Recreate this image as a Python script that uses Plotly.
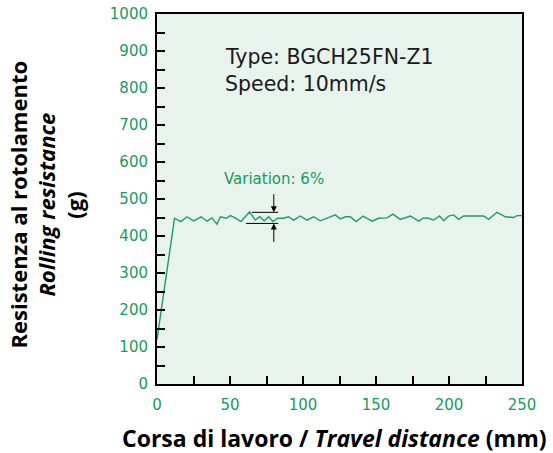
import plotly.graph_objects as go

# travel distance (mm) and rolling resistance (g)
travel_mm = [0, 12, 16.4, 20.5, 25.1, 30.3, 34.2, 37.7, 39.2, 41.1, 43.4, 47.5, 50.2,
             53.6, 57.5, 63.4, 67.3, 70.3, 73.5, 76.4, 79.4, 82.6, 86.7, 90.1, 93.6,
             98.2, 102.7, 107.3, 111.8, 116.4, 122.1, 125.5, 129, 132.4, 136.5, 141.1,
             147.3, 151.8, 157.5, 161.6, 166.6, 173.5, 179.2, 182.6, 186, 189.5, 193.6,
             196.3, 199.7, 203.2, 206.6, 210, 223.7, 227.1, 232.9, 238.6, 244.3, 246.6, 250]
resistance_g = [120, 448, 439, 452, 441, 452, 440, 449, 441, 432, 452, 448, 455,
                449, 439, 465, 443, 452, 441, 452, 439, 448, 448, 452, 443,
                454, 443, 452, 441, 448, 457, 446, 452, 452, 439, 454,
                440, 448, 449, 459, 445, 454, 440, 449, 448, 443, 454,
                441, 454, 457, 445, 454, 454, 445, 464, 452, 450, 455, 455]

# variation marker (upper / lower band, arrow at x)
var_x = 80
var_upper = 464
var_lower = 434
var_upper_span = (65, 83)
var_lower_span = (61, 83)

GREEN = "#169b5e"
TICK_FONT = dict(family="DejaVu Sans", size=15, color=GREEN)
TITLE_FONT = "Open Sans, DejaVu Sans"

fig = go.Figure()
fig.add_trace(go.Scatter(
    x=travel_mm, y=resistance_g,
    mode="lines",
    line=dict(color="#1a9e63", width=1.4),
    showlegend=False,
    hoverinfo="x+y",
))

# band lines of the variation
fig.add_shape(type="line", x0=var_upper_span[0], x1=var_upper_span[1],
              y0=var_upper, y1=var_upper, line=dict(color="black", width=1))
fig.add_shape(type="line", x0=var_lower_span[0], x1=var_lower_span[1],
              y0=var_lower, y1=var_lower, line=dict(color="black", width=1))

# arrows pointing onto the band
fig.add_annotation(x=var_x, y=var_upper, ax=var_x, ay=517, axref="x", ayref="y",
                   text="", showarrow=True, arrowhead=2, arrowsize=1.2,
                   arrowwidth=1, arrowcolor="black")
fig.add_annotation(x=var_x, y=var_lower, ax=var_x, ay=380, axref="x", ayref="y",
                   text="", showarrow=True, arrowhead=2, arrowsize=1.2,
                   arrowwidth=1, arrowcolor="black")

fig.add_annotation(x=var_x, y=553, text="Variation: 6%", showarrow=False,
                   font=dict(family="DejaVu Sans", size=15, color=GREEN))

fig.add_annotation(x=45, y=884, text="Type: BGCH25FN-Z1", showarrow=False,
                   xanchor="left", font=dict(family="DejaVu Sans", size=20.5, color="#1a1a1a"))
fig.add_annotation(x=45, y=811, text="Speed: 10mm/s", showarrow=False,
                   xanchor="left", font=dict(family="DejaVu Sans", size=20.5, color="#1a1a1a"))

# y title, three rotated lines
for xp, txt in [(-0.382, "<b>Resistenza al rotolamento</b>"),
                (-0.305, "<b><i>Rolling resistance</i></b>"),
                (-0.228, "<b>(g)</b>")]:
    fig.add_annotation(xref="paper", yref="paper", x=xp, y=0.484, text=txt,
                       xanchor="center", yanchor="middle",
                       textangle=-90, showarrow=False,
                       font=dict(family=TITLE_FONT, size=22, color="black"))

fig.add_annotation(xref="paper", yref="paper", x=0.485, y=-0.146,
                   xanchor="center", yanchor="middle",
                   text="<b>Corsa di lavoro / <i>Travel distance</i> (mm)</b>",
                   showarrow=False, font=dict(family=TITLE_FONT, size=23, color="black"))

fig.update_xaxes(range=[0, 250], dtick=50, tick0=0, showgrid=False, zeroline=False,
                 showline=True, linecolor="black", linewidth=2, mirror=True,
                 ticks="inside", ticklen=8, tickwidth=2, tickcolor="black",
                 minor=dict(dtick=25, ticks="inside", ticklen=8, tickwidth=2, tickcolor="black"),
                 tickfont=TICK_FONT, ticklabelstandoff=6, ticklabeloverflow="allow",
                 automargin=False)
fig.update_yaxes(range=[0, 1000], dtick=100, tick0=0, showgrid=False, zeroline=False,
                 showline=True, linecolor="black", linewidth=2, mirror=True,
                 ticks="inside", ticklen=8, tickwidth=2, tickcolor="black",
                 minor=dict(dtick=50, ticks="inside", ticklen=8, tickwidth=2, tickcolor="black"),
                 tickfont=TICK_FONT, ticklabelstandoff=4, ticklabeloverflow="allow",
                 automargin=False)

fig.update_layout(
    width=553, height=453,
    margin=dict(l=157, r=31, t=14, b=69),
    plot_bgcolor="#e9f3ee",
    paper_bgcolor="white",
)

# drop the default page margin so the figure fills the window exactly
fig.write_html("out.html", config={"displayModeBar": False},
               post_script="document.body.style.margin='0';")
